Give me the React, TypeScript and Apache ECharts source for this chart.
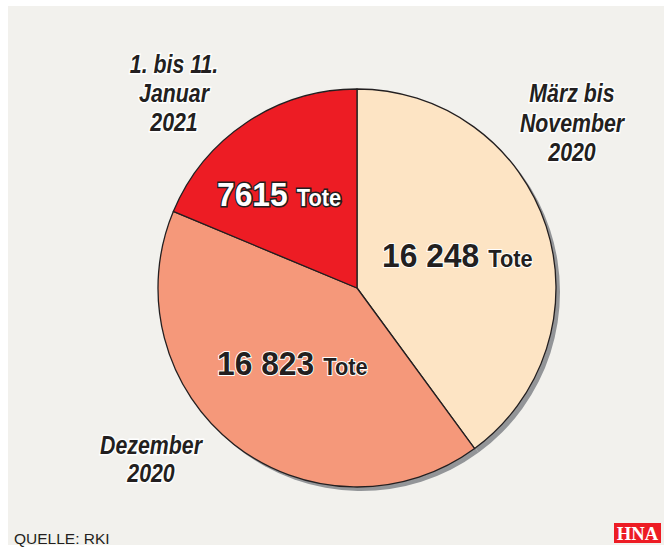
import React, { useEffect, useRef } from "react";
import * as echarts from "echarts";

const categories = ["März bis\nNovember\n2020", "Dezember\n2020", "1. bis 11.\nJanuar\n2021"];
const values = [16248, 16823, 7615];
const sliceColors = ["#fde4c4", "#f5987a", "#ed1c24"];
const unit = "Tote";
const source = "QUELLE: RKI";
const brand = "HNA";

const fmt = (n: number) => {
  const s = String(n);
  return n >= 10000 ? s.slice(0, s.length - 3) + " " + s.slice(s.length - 3) : s;
};

const SANS = "'Liberation Sans', Arial, sans-serif";
const DARK = "#231f20";

export default function App() {
  const ref = useRef<HTMLDivElement>(null);
  useEffect(() => {
    document.body.style.margin = "0";
    const chart = echarts.init(ref.current!, undefined, { renderer: "svg" });

    const inner = [
      { x: 382, base: 266, light: false },
      { x: 217, base: 374, light: false },
      { x: 217, base: 205, light: true },
    ];
    const numWidthPerChar = (s: string) => {
      let w = 0;
      for (const c of s) w += c === " " ? 0.278 : 0.556;
      return w;
    };
    const numFs = 34;
    const numScale = 0.935;
    const toteFs = 23;
    const innerTexts: any[] = [];
    values.forEach((v, i) => {
      const p = inner[i];
      const s = fmt(v);
      const fill = p.light ? "#ffffff" : DARK;
      const stroke = p.light ? DARK : "#ffffff";
      const lw = p.light ? 3 : 2;
      innerTexts.push({
        type: "text",
        x: p.x,
        y: p.base - 0.31 * numFs,
        scaleX: numScale,
        z: 20,
        style: {
          text: s,
          font: `bold ${numFs}px ${SANS}`,
          fill,
          stroke,
          lineWidth: lw,
          textAlign: "left",
          textVerticalAlign: "middle",
        },
      });
      const w = numWidthPerChar(s) * numFs * numScale;
      innerTexts.push({
        type: "text",
        x: p.x + w + 9,
        y: p.base - 0.31 * toteFs,
        scaleX: 0.95,
        z: 20,
        style: {
          text: unit,
          font: `bold ${toteFs}px ${SANS}`,
          fill,
          stroke,
          lineWidth: lw,
          textAlign: "left",
          textVerticalAlign: "middle",
        },
      });
    });

    const outer = [
      { x: 572, base: 101, lh: 29.5 },
      { x: 151, base: 453, lh: 27.5 },
      { x: 174, base: 72, lh: 29 },
    ];
    const outFs = 26;
    const outerTexts = categories.map((c, i) => {
      const o = outer[i];
      return {
        type: "text",
        x: o.x,
        y: o.base - o.lh / 2 - 0.31 * outFs,
        scaleX: 0.82,
        z: 20,
        style: {
          text: c,
          font: `italic bold ${outFs}px ${SANS}`,
          lineHeight: o.lh,
          fill: DARK,
          stroke: "#ffffff",
          lineWidth: 3,
          textAlign: "center",
          textVerticalAlign: "top",
        },
      };
    });

    const data = values.map((v, i) => ({
      name: categories[i],
      value: v,
      itemStyle: { color: sliceColors[i] },
    }));

    chart.setOption({
      animation: false,
      backgroundColor: "#ffffff",
      graphic: [
        {
          type: "rect",
          z: -10,
          shape: { x: 8, y: 6, width: 656, height: 539 },
          style: { fill: "#f2f1ed" },
        },
        ...innerTexts,
        ...outerTexts,
        {
          type: "text",
          x: 14,
          y: 543 - 0.31 * 14.5,
          scaleX: 1.07,
          z: 20,
          style: {
            text: source,
            font: `14.5px ${SANS}`,
            fill: DARK,
            textAlign: "left",
            textVerticalAlign: "middle",
          },
        },
        {
          type: "rect",
          z: 20,
          shape: { x: 614, y: 523, width: 47, height: 20 },
          style: { fill: "#ed1c24" },
        },
        {
          type: "text",
          x: 637.5,
          y: 539 - 0.305 * 19,
          z: 21,
          scaleX: 0.98,
          style: {
            text: brand,
            font: `bold 19px 'Liberation Serif', 'Times New Roman', serif`,
            fill: "#ffffff",
            textAlign: "center",
            textVerticalAlign: "middle",
          },
        },
      ],
      series: [
        {
          type: "pie",
          silent: true,
          z: 1,
          center: [361, 292],
          radius: 199,
          startAngle: 90,
          clockwise: true,
          label: { show: false },
          labelLine: { show: false },
          itemStyle: { color: "#939598" },
          data: values.map((v, i) => ({ name: categories[i], value: v })),
        },
        {
          type: "pie",
          silent: true,
          z: 2,
          center: [357, 288],
          radius: 199,
          startAngle: 90,
          clockwise: true,
          label: { show: false },
          labelLine: { show: false },
          itemStyle: { borderColor: DARK, borderWidth: 1.3 },
          data,
        },
      ],
    });
    return () => chart.dispose();
  }, []);
  return <div ref={ref} style={{ width: 664, height: 559 }} />;
}
